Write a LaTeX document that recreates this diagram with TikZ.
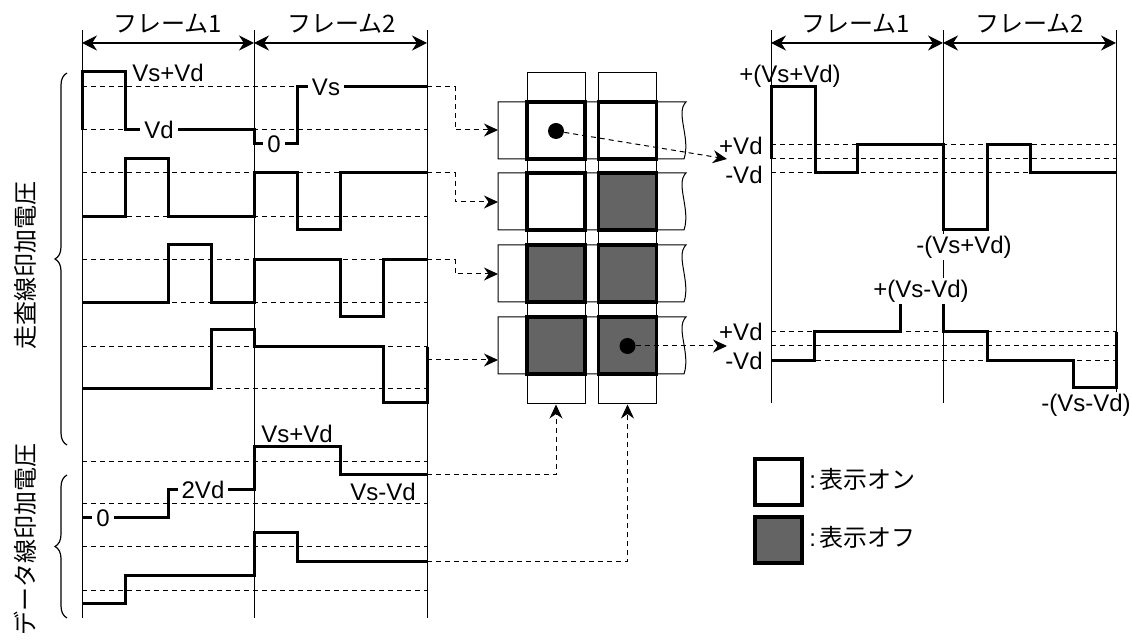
\documentclass[tikz,border=0pt]{standalone}
\usepackage{fontspec}
\setmainfont{Liberation Sans}
\newfontfamily\jpfont{Noto Sans CJK JP}
\usepackage{tikz}
\usetikzlibrary{arrows.meta, decorations.pathreplacing}
\definecolor{pxgray}{RGB}{100,100,100}

\begin{document}
\begin{tikzpicture}[
  x=0.5pt, y=-0.5pt,
  font=\fontsize{12}{14}\selectfont,
  wave/.style={line width=1.5pt},
  frm/.style={line width=0.5pt},
  guide/.style={line width=0.5pt, dash pattern=on 2.5pt off 2pt},
  conn/.style={guide, -{Stealth[length=7pt, width=6.5pt]}},
  dim/.style={line width=0.6pt, {Stealth[length=7.5pt, width=7.5pt]}-{Stealth[length=7.5pt, width=7.5pt]}},
  val/.style={inner sep=1pt},
  cut/.style={val, fill=white, inner xsep=2pt},
  ttl/.style={font=\fontsize{12}{14}\selectfont\jpfont},
  brc/.style={decorate, decoration={brace, amplitude=6pt}, line width=0.6pt},
  colband/.style={draw, line width=0.5pt, minimum width=29pt, minimum height=165.5pt, inner sep=0},
  rowband/.style={draw, line width=0.5pt, fill=white},
  pxon/.style={draw, line width=1.6pt, fill=white, minimum width=29pt, minimum height=28.5pt, inner sep=0},
  pxoff/.style={pxon, fill=pxgray},
  pxdot/.style={circle, fill, minimum size=8pt, inner sep=0},
  legbox/.style={draw, line width=1.6pt, minimum width=23.5pt, minimum height=23pt, inner sep=0}
]
\useasboundingbox (0,0) rectangle (1132,640);

\foreach \x in {82,254,427} \draw[frm] (\x,30) -- (\x,618);
\foreach \x in {771,943,1116} \draw[frm] (\x,30) -- (\x,403);
\foreach \y in {87,130,173,217,260,303,347,389,462,504,547,591} \draw[guide] (82,\y) -- (427,\y);
\foreach \y in {145,159,173,332,346,361} \draw[guide] (771,\y) -- (1116,\y);

\coordinate (a0) at (82,43);
\coordinate (a1) at (254,43);
\coordinate (a2) at (427,43);
\coordinate (b0) at (771,43);
\coordinate (b1) at (943,43);
\coordinate (b2) at (1116,43);
\foreach \p/\q in {a0/a1,a1/a2,b0/b1,b1/b2} \draw[dim] (\p) -- (\q);
\node[ttl] (fa1) at (168,24) {フレーム1};
\node[ttl] (fa2) at (342,24) {フレーム2};
\node[ttl] (fb1) at (856,24) {フレーム1};
\node[ttl] (fb2) at (1030,24) {フレーム2};

\draw[wave] (82,130) -- (82,72) -- (125,72) -- (125,130) -- (254,130) -- (254,144) -- (297,144) -- (297,87) -- (427,87);
\draw[wave] (82,217) -- (125,217) -- (125,159) -- (168,159) -- (168,217) -- (254,217) -- (254,173) -- (297,173) -- (297,230) -- (340,230) -- (340,173) -- (427,173);
\draw[wave] (82,303) -- (168,303) -- (168,245) -- (211,245) -- (211,303) -- (254,303) -- (254,260) -- (340,260) -- (340,317) -- (383,317) -- (383,260) -- (427,260);
\draw[wave] (82,389) -- (211,389) -- (211,330) -- (254,330) -- (254,347) -- (383,347) -- (383,403) -- (427,403) -- (427,347);
\draw[wave] (82,518) -- (168,518) -- (168,490) -- (254,490) -- (254,447) -- (340,447) -- (340,475) -- (427,475);
\draw[wave] (82,604) -- (125,604) -- (125,576) -- (254,576) -- (254,533) -- (297,533) -- (297,562) -- (427,562);
\draw[wave] (771,159) -- (771,87) -- (815,87) -- (815,173) -- (857,173) -- (857,145) -- (943,145) -- (943,230) -- (987,230) -- (987,145) -- (1030,145) -- (1030,173) -- (1116,173);
\draw[wave] (771,361) -- (814,361) -- (814,332) -- (900,332) -- (900,303) -- (943,303) -- (943,332) -- (987,332) -- (987,361) -- (1073,361) -- (1073,388) -- (1116,388) -- (1116,332);

\node[val] (l1) at (168,73) {Vs+Vd};
\node[cut] (l2) at (159,130) {Vd};
\node[cut] (l3) at (274,144) {0};
\node[cut] (l4) at (326,87) {Vs};
\node[cut] (l5) at (103,518) {0};
\node[cut] (l6) at (203,490) {2Vd};
\node[val] (l7) at (297,434) {Vs+Vd};
\node[val] (l8) at (383,492) {Vs-Vd};
\node[val] (r1l) at (790,76) {+(Vs+Vd)};
\node[val, anchor=east] (r2l) at (765,146) {+Vd};
\node[val, anchor=east] (r3l) at (765,175) {-Vd};
\node[cut] (r4l) at (964,247) {-(Vs+Vd)};
\node[cut] (r5l) at (921,291) {+(Vs-Vd)};
\node[val, anchor=east] (r6l) at (765,332) {+Vd};
\node[val, anchor=east] (r7l) at (765,361) {-Vd};
\node[cut] (r8l) at (1086,405) {-(Vs-Vd)};

\draw[brc] (67,445) -- (67,73);
\draw[brc] (67,618) -- (67,475);
\node[ttl, rotate=90] (scanlbl) at (25,266) {走査線印加電圧};
\node[ttl, rotate=90] (datalbl) at (25,540) {データ線印加電圧};

\node[colband] (c1) at (556,238.5) {};
\node[colband] (c2) at (627.5,238.5) {};
\foreach \y in {130.5,201.5,273.5,345.5}
  \draw[rowband] (686,\y-28.5) -- (498,\y-28.5) -- (498,\y+28.5) -- (684,\y+28.5)
    .. controls (691,\y+8) and (675,\y-18) .. (686,\y-28.5) -- cycle;
\node[pxon] (p11) at (556,130.5) {};
\node[pxon] (p12) at (627.5,130.5) {};
\node[pxon] (p21) at (556,201.5) {};
\node[pxoff] (p22) at (627.5,201.5) {};
\node[pxoff] (p31) at (556,273.5) {};
\node[pxoff] (p32) at (627.5,273.5) {};
\node[pxoff] (p41) at (556,345.5) {};
\node[pxoff] (p42) at (627.5,345.5) {};
\node[pxdot] (o1) at (556,131) {};
\node[pxdot] (o2) at (627.5,346) {};

\coordinate (s1) at (427,87);
\coordinate (s2) at (427,173);
\coordinate (s3) at (427,260);
\coordinate (s4) at (427,360);
\coordinate (e1) at (498,130);
\coordinate (e2) at (498,202);
\coordinate (e3) at (498,274);
\coordinate (e4) at (498,360);
\foreach \i in {1,2,3} \draw[conn] (s\i) -- ++(28,0) |- (e\i);
\draw[conn] (s4) -- (e4);
\coordinate (d1) at (427,475);
\coordinate (d2) at (427,562);
\draw[conn] (d1) -| (c1.south);
\draw[conn] (d2) -| (c2.south);
\coordinate (w1) at (727,159);
\coordinate (w2) at (727,346);
\draw[conn] (o1) -- (w1);
\draw[conn] (o2) -- (w2);

\node[legbox] (kon) at (778.5,482) {};
\node[legbox, fill=pxgray] (koff) at (778.5,540) {};
\node[anchor=west, inner sep=0] (ton) at (809,479) {:\hspace{1.5pt}\jpfont 表示オン};
\node[anchor=west, inner sep=0] (toff) at (809,537) {:\hspace{1.5pt}\jpfont 表示オフ};
\end{tikzpicture}
\end{document}
